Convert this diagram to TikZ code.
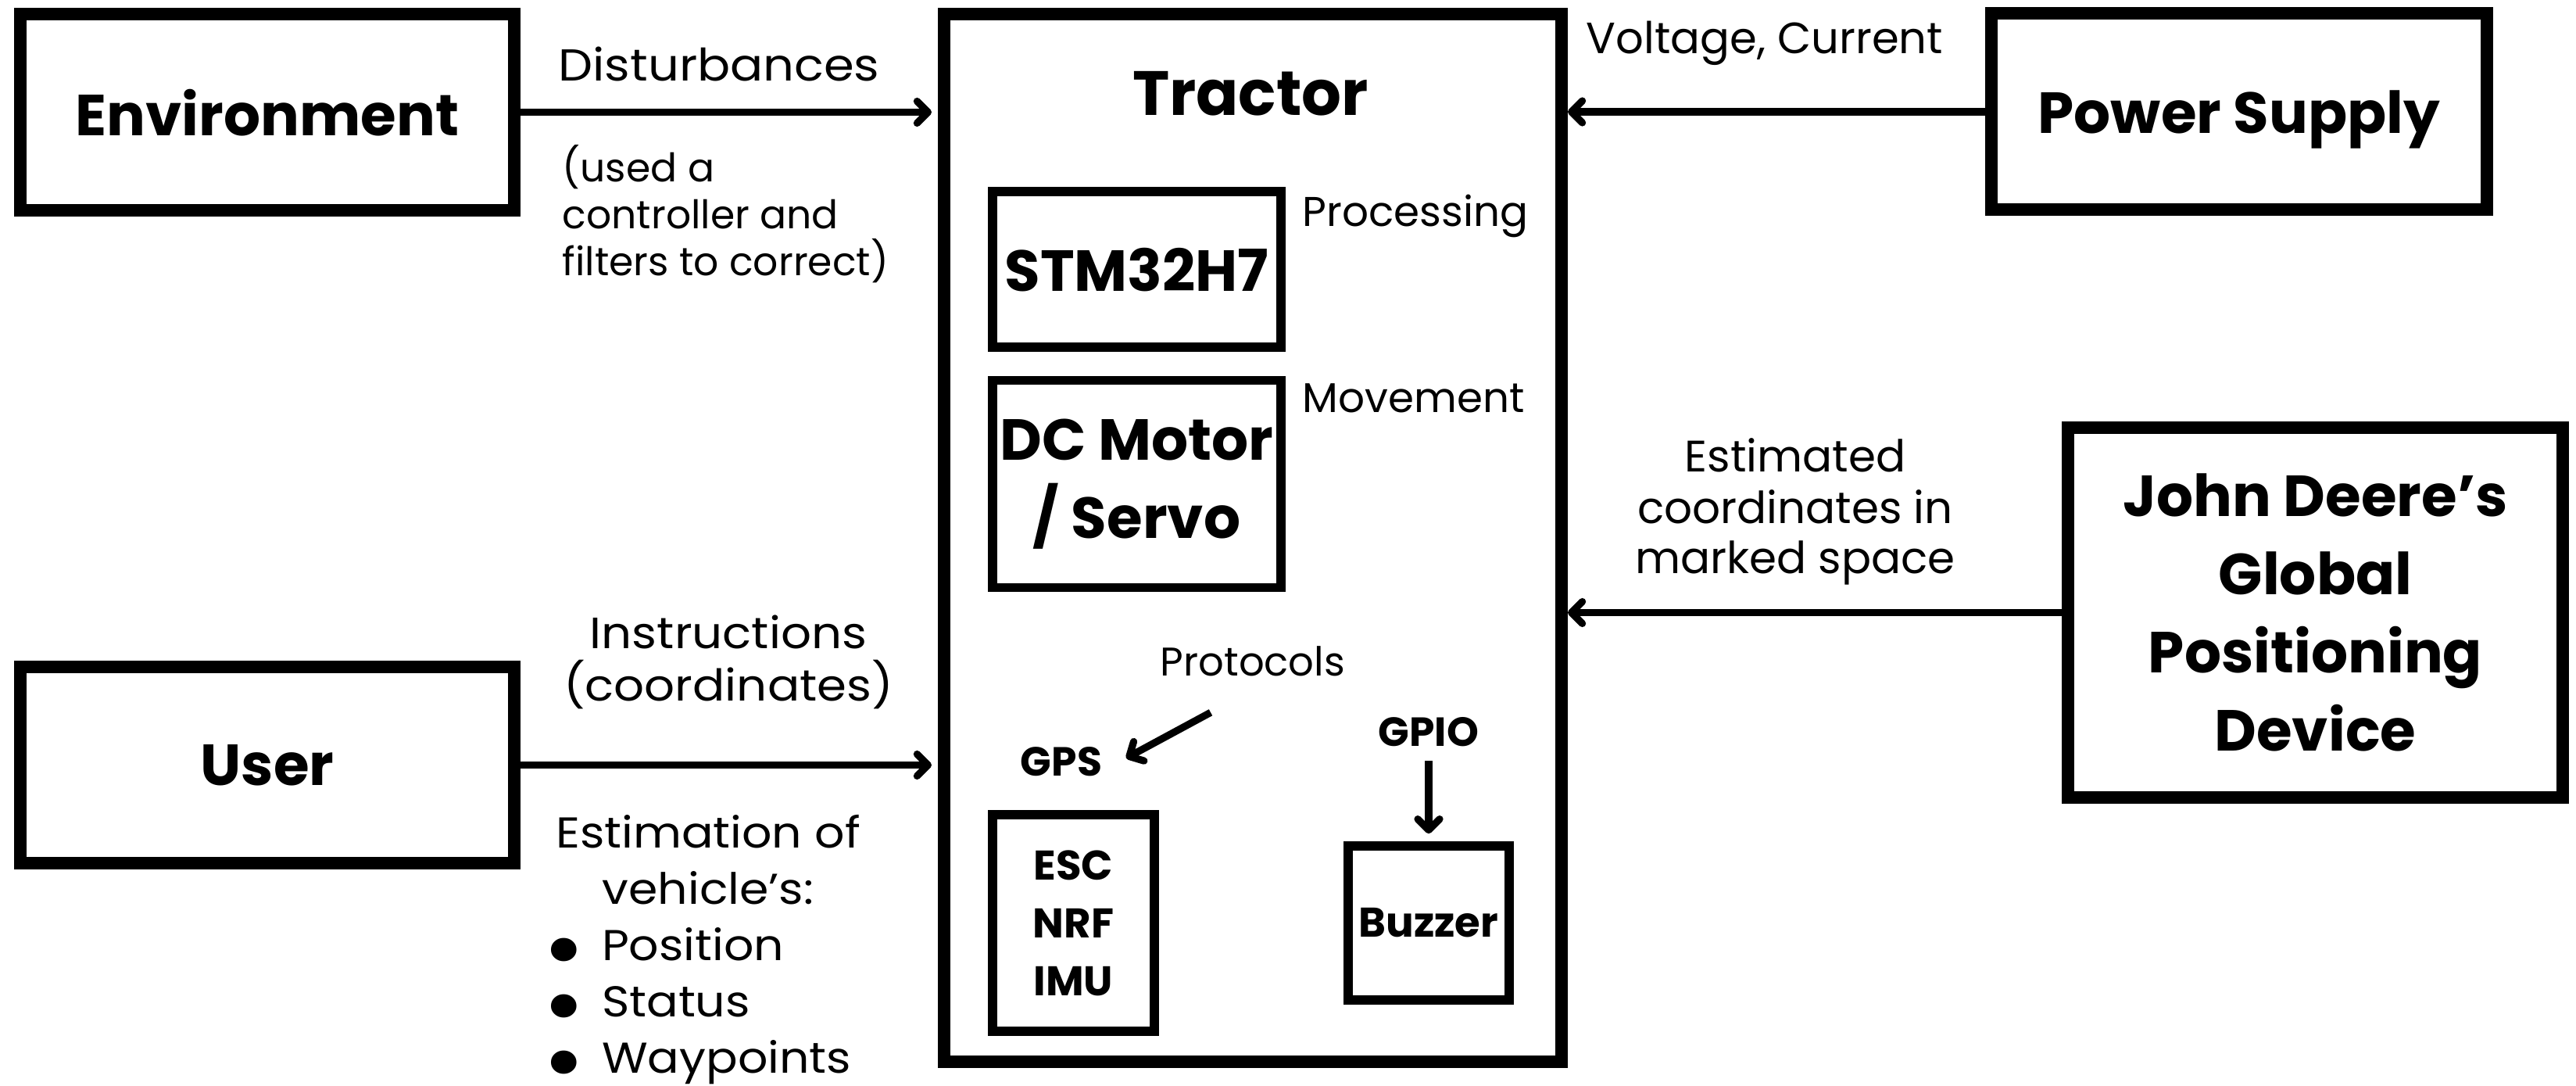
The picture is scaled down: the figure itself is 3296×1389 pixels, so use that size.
\documentclass[tikz,border=0pt]{standalone}
\usepackage{fontspec}
\setmainfont{Poppins}
\newfontfamily\widefont[FakeStretch=1.09]{Poppins}
\usetikzlibrary{arrows.meta,positioning,calc}
\newcommand{\boxfont}{\fontsize{18.5pt}{25pt}\selectfont\bfseries}
\newcommand{\partfont}{\fontsize{13.25pt}{18.5pt}\selectfont\bfseries}
\newcommand{\lblfont}{\fontsize{14pt}{16pt}\selectfont}
\newcommand{\tagfont}{\fontsize{12.8pt}{14pt}\selectfont}
\newcommand{\blt}{\raisebox{-6.9pt}[0pt][0pt]{\scalebox{2.2}{\textbullet}}\hspace{5.2pt}}
\tikzset{
  box/.style={draw, line width=4pt, inner sep=0pt, align=center, font=\boxfont},
  widebox/.style={box, minimum width=158pt, minimum height=62.75pt, text depth=0pt},
  partbox/.style={draw, line width=2.9pt, inner sep=0pt, align=center},
  arrow/.style={-{Straight Barb[length=3.5pt,width=7pt,round]}, line width=2.3pt},
  lbl/.style={inner sep=0pt, align=center, font=\lblfont},
  tag/.style={inner sep=0pt, font=\tagfont}
}

\begin{document}
\begin{tikzpicture}[x=0.25pt, y=-0.25pt]
  \fill[white] (0,0) rectangle (3296,1389);
  \useasboundingbox (0,0) rectangle (3296,1389);
  % outside blocks
  \node[widebox] (env) at (342,143.5) {Environment};
  \node[widebox] (user) at (342,978.5) {User};
  \node[widebox, minimum width=158.5pt] (power) at (2865,143) {Power Supply};
  \node[box, minimum width=158.25pt, minimum height=118.25pt] (deere) at (2962.5,783.5) {John Deere’s\\Global\\Positioning\\Device};
  % tractor and its parts
  \node[box, minimum width=197.5pt, minimum height=335pt] (tractor) at (1603,688) {};
  \node[anchor=base, inner sep=0pt, font=\fontsize{20pt}{24pt}\selectfont\bfseries] (tractorlbl) at (1600,148) {Tractor};
  \node[partbox, font=\boxfont, minimum width=92.25pt, minimum height=49.75pt, text depth=0pt] (stm) at (1454.5,344.5) {STM32H7};
  \node[partbox, font=\boxfont, minimum width=92.25pt, minimum height=66.25pt] (motor) at (1454.5,619) {DC Motor\\/ Servo};
  \node[partbox, font=\partfont, minimum width=51.75pt, minimum height=69.25pt] (sensors) at (1373.5,1180.5) {ESC\\NRF\\IMU};
  \node[partbox, font=\partfont, minimum width=51.5pt, minimum height=49.25pt] (buzzer) at (1828,1180.5) {Buzzer};
  \node[lbl, anchor=base west, font=\fontsize{13.3pt}{16pt}\selectfont] (proc) at (1666,290) {Processing};
  \node[lbl, anchor=base west, font=\fontsize{13.3pt}{16pt}\selectfont] (move) at (1666,528) {Movement};
  \node[tag, anchor=base] (proto) at (1603,864) {Protocols};
  \node[tag, anchor=base, font=\fontsize{13pt}{14pt}\selectfont\bfseries] (gpslbl) at (1358,992) {GPS};
  \node[tag, anchor=base, font=\fontsize{13pt}{14pt}\selectfont\bfseries] (gpio) at (1828,954) {GPIO};
  % connector labels (multi-line ones sit on their last baseline)
  \node[lbl, anchor=base, font=\widefont\fontsize{14.3pt}{16pt}\selectfont] (dist) at (920,104) {Disturbances};
  \node[lbl, anchor=base west, align=left, font=\fontsize{12.6pt}{15pt}\selectfont] (distnote) at (719,353) {(used a\\controller and\\filters to correct)};
  \node[lbl, anchor=base, font=\widefont\fontsize{14pt}{16.75pt}\selectfont] (instr) at (932,896) {Instructions\\(coordinates)};
  \node[lbl, anchor=base, font=\widefont\fontsize{13.8pt}{18pt}\selectfont] (estm) at (906,1156) {Estimation of\\vehicle’s:};
  \node[lbl, anchor=base west, align=left, font=\widefont\fontsize{13.8pt}{18pt}\selectfont] (estlist) at (694,1372) {\blt Position\\\blt Status\\\blt Waypoints};
  \node[lbl, anchor=base] (volt) at (2258,69) {Voltage, Current};
  \node[lbl, anchor=base, font=\fontsize{14.1pt}{16.25pt}\selectfont] (estco) at (2297,734) {Estimated\\coordinates in\\marked space};
  % connectors
  \draw[arrow, shorten >=2pt] (env.east) -- (env.east -| tractor.west);
  \draw[arrow, shorten >=2pt] (user.east) -- (user.east -| tractor.west);
  \draw[arrow] (power.west) -- (power.west -| tractor.east);
  \draw[arrow] (deere.west) -- (deere.west -| tractor.east);
  \draw[arrow] ([shift={(-13.5pt,-11.5pt)}]proto.south) -- ([xshift=7.5pt,yshift=1pt]gpslbl.east);
  \draw[arrow, shorten <=4.5pt, shorten >=2.5pt] (gpio.south) -- (buzzer.north);
\end{tikzpicture}
\end{document}
